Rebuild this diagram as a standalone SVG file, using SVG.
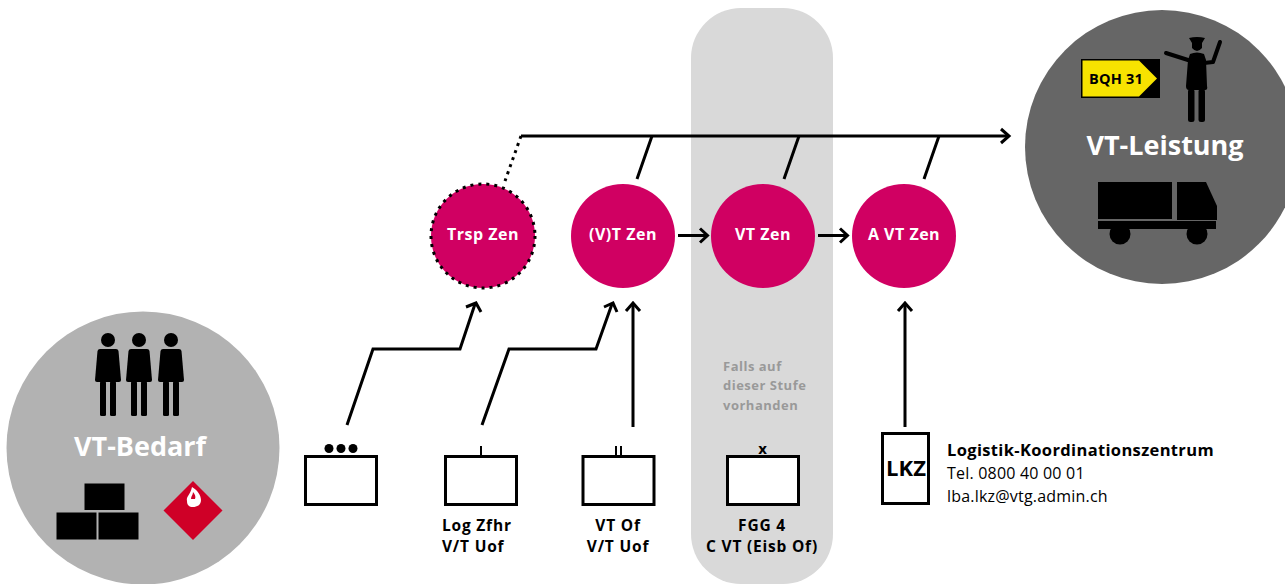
<svg xmlns="http://www.w3.org/2000/svg" width="1285" height="584" viewBox="0 0 1285 584">
<style>
text{font-family:"Open Sans","Noto Sans","Liberation Sans",sans-serif;font-weight:700}
.zen{fill:#d00062}
.zt{fill:#fff;font-size:16px;letter-spacing:.5px;text-anchor:middle}
.big{fill:#fff;font-size:27px;text-anchor:middle}
.box{fill:#fff;stroke:#000;stroke-width:3}
.lab{font-size:15.500px;letter-spacing:.8px;text-anchor:middle;fill:#000}
.note{font-size:13px;letter-spacing:.5px;fill:#999}
.line{fill:none;stroke:#000;stroke-width:3}
.thin{fill:none;stroke:#000;stroke-width:2}
.k{fill:#000}
.norm{font-weight:400;font-size:16px;letter-spacing:.2px;fill:#000}
</style>
<defs>
<g id="person">
<circle cx="0" cy="-69" r="7"/>
<path d="M-8-60H8Q10-60 10.500-58L13-29Q13-27 11-27H-11Q-13-27-13-29L-10.500-58Q-10-60-8-60Z"/>
<rect x="-8" y="-28" width="6" height="35" rx="1.500"/>
<rect x="2" y="-28" width="6" height="35" rx="1.500"/>
</g>
</defs>
<rect id="band" x="691" y="8" width="142" height="576" rx="50" fill="#d9d9d9"/>
<g id="vt-bedarf">
<circle cx="143" cy="448" r="136.500" fill="#b2b2b2"/>
<use href="#person" x="108" y="409"/>
<use href="#person" x="139" y="409"/>
<use href="#person" x="171" y="409"/>
<text class="big" x="140" y="456">VT-Bedarf</text>
<rect class="k" x="84.500" y="483.500" width="40" height="26.500"/>
<rect class="k" x="56.500" y="512.500" width="40" height="27"/>
<rect class="k" x="98.500" y="512.500" width="40" height="27"/>
<path d="M193 481L222.500 510.500L193 540L163.500 510.500Z" fill="#cf0027"/>
<path d="M187 501C186 496 190 496 192 487C197 490 201 495 201 500C201 505 197 507 193 507C189 507 187 505 187 501Z" fill="#fff"/>
<path d="M191 499C191 496 193 495 193 492C195 494 196 497 195 499Z" fill="#cf0027"/>
</g>
<g id="vt-leistung">
<circle cx="1162" cy="147" r="137" fill="#666"/>
<rect class="k" x="1081" y="59" width="79" height="39"/>
<path d="M1082.500 60.500H1139L1157 78.500L1139 96.500H1082.500Z" fill="#f7e300"/>
<text x="1089" y="84" font-size="14.500" letter-spacing=".2" fill="#000">BQH 31</text>
<path class="k" d="M1189 38Q1197 36 1205 38L1202 43V48Q1197 54 1192 48V43Z"/>
<path class="k" d="M1190 54Q1197 51 1204 54L1206 60L1207 86Q1208 90 1205 90H1189Q1186 90 1186 86L1188 60Z"/>
<path d="M1166 53L1188 60M1220 42L1213 62L1204 63" fill="none" stroke="#000" stroke-width="4" stroke-linecap="round" stroke-linejoin="round"/>
<rect class="k" x="1188" y="89" width="6.500" height="33" rx="2.500"/>
<rect class="k" x="1198.500" y="89" width="6.500" height="33" rx="2.500"/>
<text class="big" x="1165" y="155">VT-Leistung</text>
<rect class="k" x="1098" y="182" width="74" height="37"/>
<path class="k" d="M1177 182H1206L1217 206V220H1177Z"/>
<rect class="k" x="1098" y="221" width="118" height="8"/>
<circle class="k" cx="1120" cy="234" r="10.500"/>
<circle class="k" cx="1197" cy="234" r="10.500"/>
</g>
<g id="connectors">
<path class="line" d="M521 136H1008"/>
<path class="line" d="M1001 129L1009 136L1001 143"/>
<path class="line" d="M521 136L505 181" stroke-dasharray="3 4.500"/>
<path class="line" d="M652 136L637 179M799 136L784 179M939 136L924 179"/>
<path class="line" d="M678 235.500H707M818 235.500H847"/>
<path class="line" d="M700 228.500L707.500 235.500L700 242.500M840 228.500L847.500 235.500L840 242.500"/>
<path class="line" d="M347 425L373 349H460L475 304"/>
<path class="line" d="M466 307L476 303L481 312"/>
<path class="line" d="M482 425L509 349H596L612 304"/>
<path class="line" d="M604 307L613 303L617 312"/>
<path class="line" d="M633 427V304M905 427V304"/>
<path class="line" d="M626 311L633 303L640 311M898 311L905 303L912 311"/>
</g>
<g id="trsp-zen">
<circle class="zen" cx="483" cy="236" r="52"/>
<circle cx="483" cy="236" r="52" fill="none" stroke="#000" stroke-width="3" stroke-dasharray="3 5"/>
<text class="zt" x="483" y="239.500">Trsp Zen</text>
</g>
<g id="vt-zen-1"><circle class="zen" cx="623" cy="236" r="52"/><text class="zt" x="623" y="239.500">(V)T Zen</text></g>
<g id="vt-zen-2"><circle class="zen" cx="763" cy="236" r="52"/><text class="zt" x="763" y="239.500">VT Zen</text></g>
<g id="a-vt-zen"><circle class="zen" cx="904" cy="236" r="52"/><text class="zt" x="904" y="239.500">A VT Zen</text></g>
<g id="unit-dots">
<rect class="box" x="305.500" y="456.500" width="71" height="48"/>
<circle class="k" cx="329" cy="448.500" r="4.500"/><circle class="k" cx="341" cy="448.500" r="4.500"/><circle class="k" cx="353" cy="448.500" r="4.500"/>
</g>
<g id="log-zfhr">
<rect class="box" x="445.500" y="456.500" width="71" height="48"/>
<path class="thin" d="M481 446V456"/>
<text class="lab" x="442" y="531" style="text-anchor:start">Log Zfhr</text>
<text class="lab" x="442" y="552" style="text-anchor:start">V/T Uof</text>
</g>
<g id="vt-of">
<rect class="box" x="583" y="456.500" width="71" height="48"/>
<path class="thin" d="M616 446V456M621 446V456"/>
<text class="lab" x="618" y="531">VT Of</text>
<text class="lab" x="618" y="552">V/T Uof</text>
</g>
<g id="fgg4">
<rect class="box" x="727.500" y="456.500" width="71" height="48"/>
<text class="lab" x="763" y="454" style="font-size:15px">x</text>
<text class="lab" x="762" y="531">FGG 4</text>
<text class="lab" x="762" y="552">C VT (Eisb Of)</text>
<text class="note" x="723" y="371">Falls auf</text>
<text class="note" x="723" y="390">dieser Stufe</text>
<text class="note" x="723" y="410">vorhanden</text>
</g>
<g id="lkz">
<rect class="box" x="882.500" y="433.500" width="46" height="70"/>
<text x="906" y="476" font-size="22" text-anchor="middle" fill="#000">LKZ</text>
<text x="947" y="456" font-size="16.500" letter-spacing=".35" fill="#000">Logistik-Koordinationszentrum</text>
<text class="norm" x="947" y="479">Tel. 0800 40 00 01</text>
<text class="norm" x="947" y="502">lba.lkz@vtg.admin.ch</text>
</g>
</svg>
